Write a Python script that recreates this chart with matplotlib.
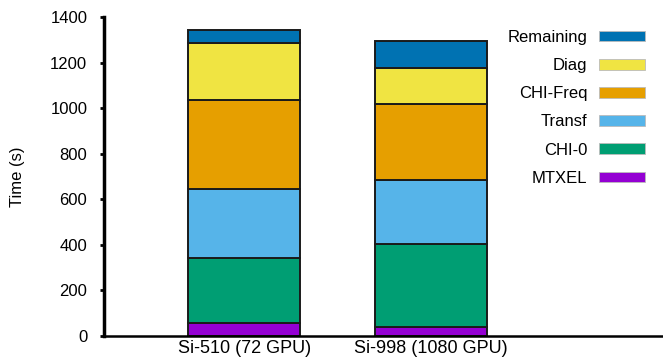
import matplotlib
matplotlib.use("Agg")
import matplotlib.pyplot as plt
from matplotlib.patches import Patch

plt.rcParams['font.family'] = ['Liberation Sans', 'DejaVu Sans']

categories = ["Si-510 (72 GPU)", "Si-998 (1080 GPU)"]
components = ["MTXEL", "CHI-0", "Transf", "CHI-Freq", "Diag", "Remaining"]
values = {
    "MTXEL":     [59, 40],
    "CHI-0":     [284, 364],
    "Transf":    [303, 279],
    "CHI-Freq":  [389, 337],
    "Diag":      [249, 154],
    "Remaining": [57, 119],
}
colors = {
    "MTXEL": "#9400D3",
    "CHI-0": "#009E73",
    "Transf": "#56B4E9",
    "CHI-Freq": "#E69F00",
    "Diag": "#F0E442",
    "Remaining": "#0072B2",
}

fig = plt.figure(figsize=(6.63, 3.59), dpi=100)
ax = fig.add_axes([104/663, 1 - 336/359, 1 - 104/663, (336 - 17)/359])

x = list(range(len(categories)))
bottom = [0] * len(categories)
for comp in components:
    ax.bar(x, values[comp], width=0.6, bottom=bottom, color=colors[comp],
           edgecolor="#1a1a1a", linewidth=1.4, label=comp)
    bottom = [b + v for b, v in zip(bottom, values[comp])]

ax.set_xlim(-0.75, 2.24)
ax.set_ylim(0, 1400)
ax.set_yticks(range(0, 1401, 200))
ax.set_xticks(x)
ax.set_xticklabels(categories, fontsize=13)
ax.tick_params(axis='y', labelsize=12, width=2, length=3, direction='out', pad=9)
ax.tick_params(axis='x', length=0, pad=3)
ax.set_ylabel("Time (s)", fontsize=12, labelpad=18)

for s in ["top", "right"]:
    ax.spines[s].set_visible(False)
ax.spines["left"].set_linewidth(2.5)
ax.spines["bottom"].set_linewidth(1.8)

handles = [Patch(facecolor=colors[c], edgecolor="#bbbbbb", linewidth=0.6) for c in reversed(components)]
leg = ax.legend(handles, list(reversed(components)), loc="upper right",
                bbox_to_anchor=(645/663, 1 - 30/359), bbox_transform=fig.transFigure,
                frameon=False, markerfirst=False, fontsize=12,
                handlelength=2.75, handleheight=0.6, handletextpad=0.72,
                labelspacing=0.79, borderpad=0, borderaxespad=0)

fig.savefig("out.png", dpi=100)
